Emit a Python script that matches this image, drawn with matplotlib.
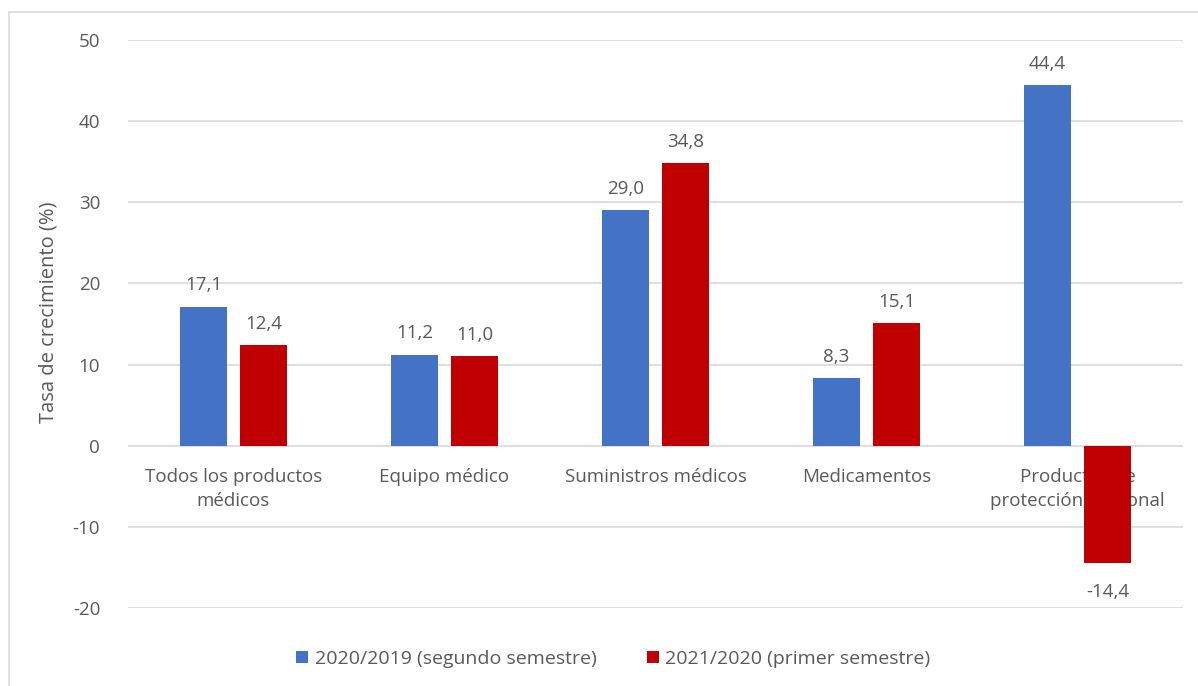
import matplotlib.pyplot as plt
import numpy as np
from matplotlib.patches import Rectangle

categories = ["Todos los productos\nmédicos", "Equipo médico", "Suministros médicos",
              "Medicamentos", "Productos de\nprotección personal"]
serie_2020 = [17.1, 11.2, 29.0, 8.3, 44.4]
serie_2021 = [12.4, 11.0, 34.8, 15.1, -14.4]
labels = ["2020/2019 (segundo semestre)", "2021/2020 (primer semestre)"]
yticks = [-20, -10, 0, 10, 20, 30, 40, 50]


def fmt(v):
    return ("%.1f" % v).replace(".", ",")


def main():
    plt.rcParams['font.family'] = ['Open Sans', 'DejaVu Sans']
    text_color = '#595959'
    fs = 13.5

    fig = plt.figure(figsize=(11.98, 6.86), dpi=100)
    ax = fig.add_axes([0.1068, 0.1137, 0.8807, 0.828])

    # outer chart border like excel
    fig.patches.append(Rectangle((9 / 1198, -0.01), 1.02, 1 - 12 / 686 + 0.01,
                                 transform=fig.transFigure, fill=False,
                                 edgecolor='#d9d9d9', linewidth=1.2))

    index = np.arange(len(categories))
    bar_width = 0.223
    offset = 0.142

    b1 = ax.bar(index - offset, serie_2020, bar_width, color='#4472C4',
                label=labels[0], zorder=3)
    b2 = ax.bar(index + offset, serie_2021, bar_width, color='#C00000',
                label=labels[1], zorder=3)

    for rects, vals in ((b1, serie_2020), (b2, serie_2021)):
        for r, v in zip(rects, vals):
            x = r.get_x() + r.get_width() / 2
            if v >= 0:
                ax.annotate(fmt(v), (x, v), xytext=(0, 9), textcoords='offset points',
                            ha='center', va='bottom', fontsize=fs, color=text_color)
            else:
                ax.annotate(fmt(v), (x, v), xytext=(0, -15), textcoords='offset points',
                            ha='center', va='top', fontsize=fs, color=text_color)

    # category labels sit inside the plot, under the zero line
    for i, c in enumerate(categories):
        ax.annotate(c, (i, 0), xytext=(0, -16), textcoords='offset points',
                    ha='center', va='top', fontsize=fs, color=text_color,
                    linespacing=1.45, zorder=1)

    ax.set_xlim(-0.5, len(categories) - 0.5)
    ax.set_ylim(-20, 50)
    ax.set_yticks(yticks)
    ax.set_yticklabels([str(t) for t in yticks], fontsize=fs, color=text_color)
    ax.set_xticks([])
    ax.tick_params(axis='y', length=0, pad=20)
    ax.grid(axis='y', color='#d9d9d9', linewidth=1.2, zorder=0)
    ax.set_axisbelow(True)
    for s in ax.spines.values():
        s.set_visible(False)

    ax.set_ylabel("Tasa de crecimiento (%)", fontsize=14.5, color=text_color)
    ax.yaxis.set_label_coords(-0.066, 0.521)

    fig.legend(handles=[b1, b2], loc='center', bbox_to_anchor=(0.512, 0.04), ncol=2,
               frameon=False, fontsize=14, labelcolor=text_color,
               handlelength=0.6, handleheight=0.6, handletextpad=0.35, columnspacing=2.6)

    fig.savefig("out.png", dpi=100)


if __name__ == "__main__":
    main()
